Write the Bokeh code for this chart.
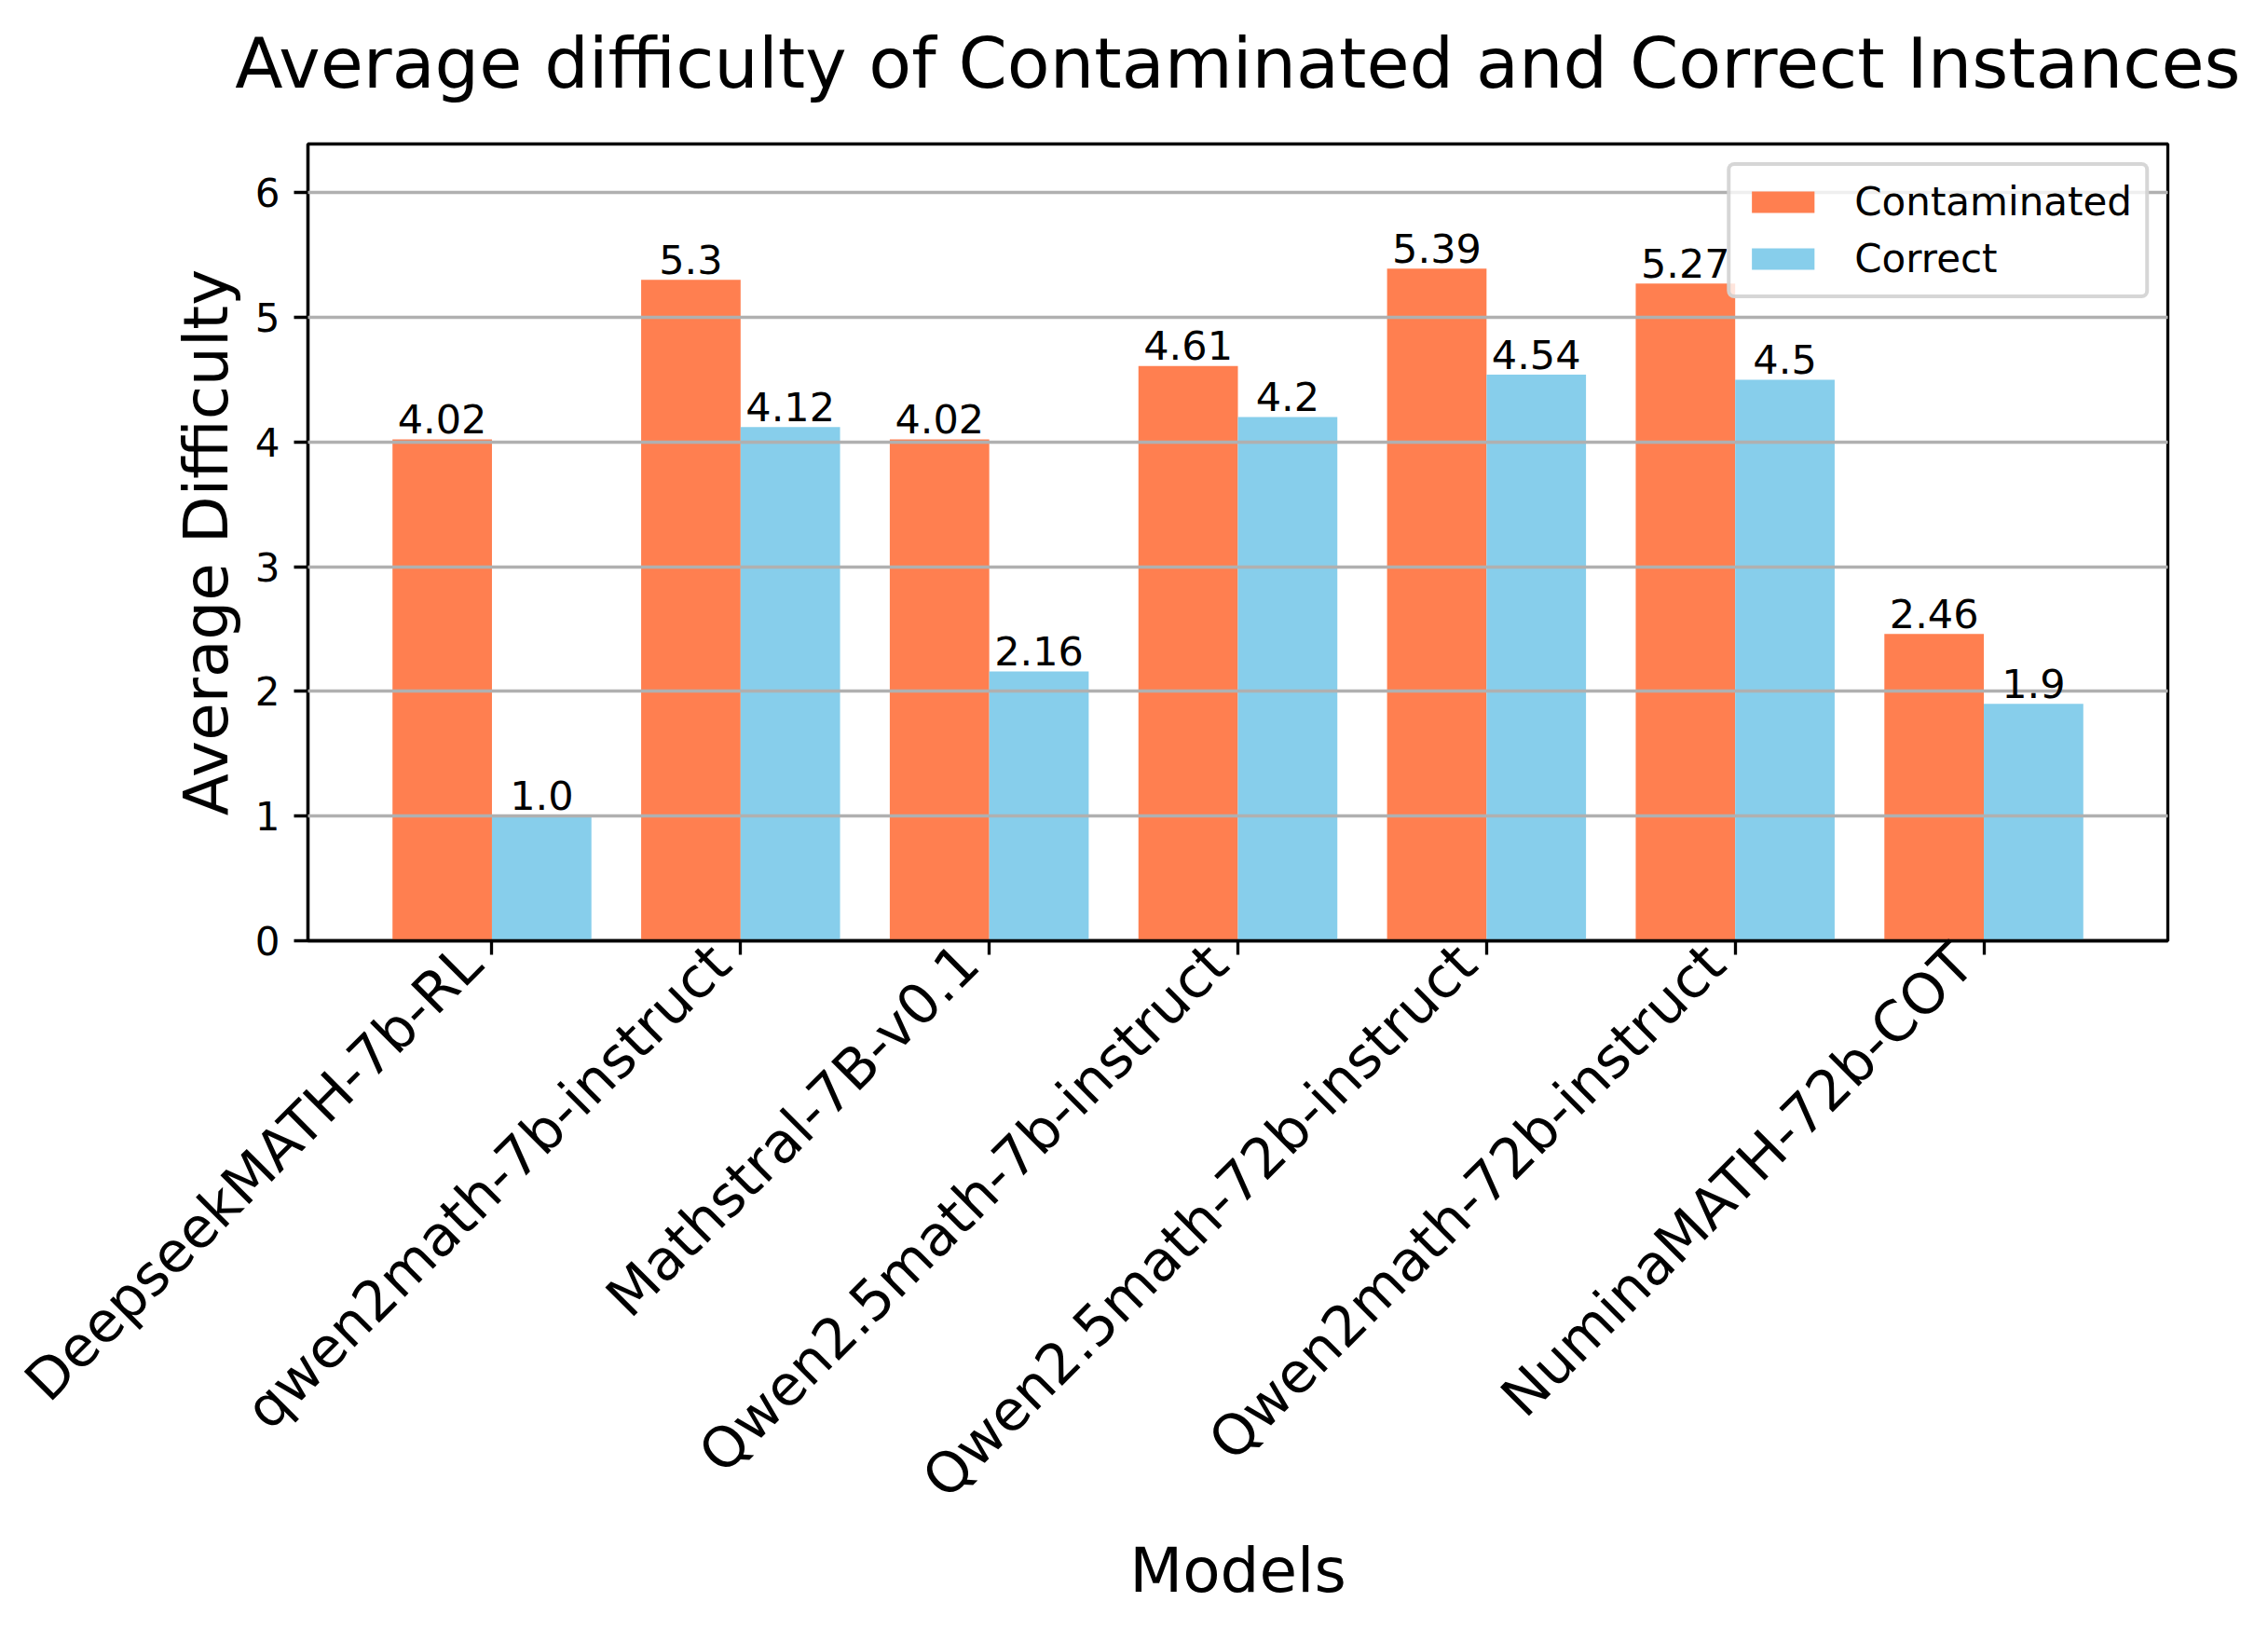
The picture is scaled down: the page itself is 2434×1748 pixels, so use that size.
import math
from bokeh.plotting import figure
from bokeh.models import ColumnDataSource, Range1d, FixedTicker
from bokeh.transform import dodge
from bokeh.core.properties import value
from bokeh.embed import file_html
from bokeh.resources import INLINE

models = ["DeepseekMATH-7b-RL", "qwen2math-7b-instruct", "Mathstral-7B-v0.1",
          "Qwen2.5math-7b-instruct", "Qwen2.5math-72b-instruct",
          "Qwen2math-72b-instruct", "NuminaMATH-72b-COT"]
contaminated = [4.02, 5.3, 4.02, 4.61, 5.39, 5.27, 2.46]
correct = [1.0, 4.12, 2.16, 4.2, 4.54, 4.5, 1.9]
y_ticks = [0, 1, 2, 3, 4, 5, 6]

FONT = "DejaVu Sans"
x_idx = list(range(len(models)))
src = ColumnDataSource(dict(
    x=x_idx,
    c=contaminated,
    k=correct,
    c_lbl=[str(v) for v in contaminated],
    k_lbl=[str(v) for v in correct],
))

p = figure(
    frame_width=1996, frame_height=855,
    min_border_left=330, min_border_right=100,
    min_border_top=154, min_border_bottom=731,
    x_range=Range1d(-0.74, 6.74), y_range=Range1d(0, max(contaminated) + 1),
    output_backend="svg", toolbar_location=None,
    title="Average difficulty of Contaminated and Correct Instances",
)

p.vbar(x=dodge("x", -0.2, range=p.x_range), top="c", width=0.4, source=src,
       fill_color="#FF7F50", line_color=None, legend_label="Contaminated")
p.vbar(x=dodge("x", 0.2, range=p.x_range), top="k", width=0.4, source=src,
       fill_color="#87CEEB", line_color=None, legend_label="Correct")

t1 = p.text(x=dodge("x", -0.2, range=p.x_range), y="c", text="c_lbl", source=src,
            text_align="center", text_baseline="alphabetic", y_offset=-22,
            text_font=value(FONT), text_font_size="43px", text_color="black")
t2 = p.text(x=dodge("x", 0.2, range=p.x_range), y="k", text="k_lbl", source=src,
            text_align="center", text_baseline="alphabetic", y_offset=-22,
            text_font=value(FONT), text_font_size="43px", text_color="black")
t1.level = "annotation"
t2.level = "annotation"

# title
p.title.text_font = FONT
p.title.text_font_size = "75px"
p.title.text_font_style = "normal"
p.title.text_color = "black"
p.title.align = "center"
p.title.standoff = 10
p.title.padding = dict(left=0, right=0, top=0, bottom=38)

# frame
p.outline_line_color = "black"
p.outline_line_width = 3.3
p.background_fill_color = "white"
p.border_fill_color = "white"

# grid
p.xgrid.visible = False
p.ygrid.grid_line_color = "#b0b0b0"
p.ygrid.grid_line_width = 3.3
p.ygrid.level = "guide"
p.ygrid.ticker = FixedTicker(ticks=y_ticks)

for ax in (p.xaxis[0], p.yaxis[0]):
    ax.axis_line_color = "black"
    ax.axis_line_width = 3.3
    ax.major_label_text_font = FONT
    ax.major_label_text_color = "black"
    ax.axis_label_text_font = FONT
    ax.axis_label_text_color = "black"
    ax.axis_label_text_font_style = "normal"
    ax.axis_label_text_font_size = "66px"

# y axis
ya = p.yaxis[0]
ya.ticker = FixedTicker(ticks=y_ticks)
ya.major_tick_line_color = "black"
ya.major_tick_line_width = 3.3
ya.major_tick_out = 15
ya.major_tick_in = 0
ya.minor_tick_line_color = None
ya.major_label_standoff = 15
ya.major_label_text_font_size = "42px"
ya.axis_label = "Average Difficulty"
ya.axis_label_standoff = 11

# x axis: tick marks at the categories (drawn as minor ticks), rotated labels
# anchored slightly left of them like matplotlib's ha="right" rotated bbox
label_shift = -0.082
xa = p.xaxis[0]
xa.ticker = FixedTicker(ticks=[i + label_shift for i in x_idx], minor_ticks=x_idx)
xa.major_label_overrides = {i + label_shift: m for i, m in zip(x_idx, models)}
xa.major_tick_line_color = None
xa.major_tick_out = 0
xa.major_tick_in = 0
xa.minor_tick_line_color = "black"
xa.minor_tick_line_width = 3.3
xa.minor_tick_out = 15
xa.minor_tick_in = 0
xa.major_label_orientation = math.pi / 4
xa.major_label_text_font_size = "60px"
xa.major_label_standoff = -1
xa.axis_label = "Models"
xa.axis_label_standoff = -2

# legend
lg = p.legend[0]
lg.location = "top_right"
lg.margin = 20
lg.padding = 14
lg.spacing = 12
lg.glyph_width = 84
lg.glyph_height = 29
lg.label_standoff = 35
lg.label_text_font = FONT
lg.label_text_font_size = "42px"
lg.label_text_color = "black"
lg.border_line_color = "#cccccc"
lg.border_line_width = 4
lg.border_line_alpha = 0.8
lg.background_fill_alpha = 0.8
lg.border_radius = 8

open("out.html", "w").write(file_html(p, INLINE))
